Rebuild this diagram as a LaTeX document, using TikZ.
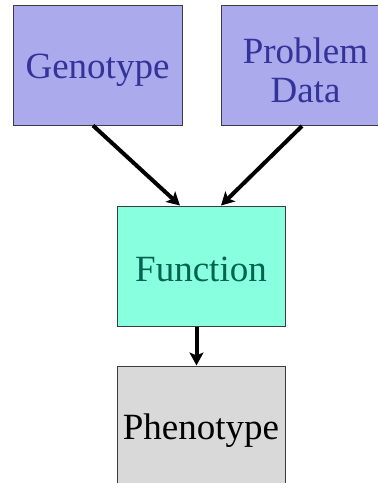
\documentclass[tikz,border=0pt]{standalone}
\usepackage{fontspec}
\setmainfont{Liberation Serif}
\usetikzlibrary{arrows.meta}
\definecolor{inbox}{RGB}{170,170,236}
\definecolor{intext}{RGB}{51,51,153}
\definecolor{funbox}{RGB}{136,255,222}
\definecolor{funtext}{RGB}{0,100,80}
\definecolor{phenobox}{RGB}{217,217,217}
\definecolor{edge}{RGB}{60,60,60}
% line struts: one-line labels sit 15pt below the box centre
\newcommand\onestrut{\rule[-4pt]{0pt}{38pt}}
\newcommand\twostrut{\rule{0pt}{35pt}}
\tikzset{
  block/.style={draw=edge, line width=1pt, minimum width=169pt, minimum height=120pt,
    inner sep=0pt, align=center, font=\fontsize{37}{39}\selectfont},
  inblock/.style={block, fill=inbox, text=intext},
  arr/.style={line width=4pt, -{Stealth[length=13pt, width=14pt, inset=3pt]}}
}
\begin{document}
\begin{tikzpicture}[x=1pt, y=1pt]
  \useasboundingbox (0,0) rectangle (378,-483);
  \begin{scope}
    \clip (0,0) rectangle (378,-483);
    \node[inblock] (geno) at (97.5,-65) {\onestrut Genotype};
    \node[inblock] (data) at (305.5,-65.5) {\twostrut Problem\\\twostrut Data};
    \node[block, fill=funbox, text=funtext, minimum width=168pt] (func) at (201,-266) {\onestrut Function};
    \node[block, fill=phenobox, text=black, minimum width=168pt] (pheno) at (201,-426) {\onestrut Phenotype};
  \end{scope}
  \draw[arr] ([xshift=-4.5pt]geno.south) -- ([xshift=-21pt]func.north);
  \draw[arr] ([xshift=-3.5pt]data.south) -- ([xshift=20pt]func.north);
  \draw[arr] ([xshift=-4.5pt]func.south) -- ([xshift=-4.5pt]pheno.north);
\end{tikzpicture}
\end{document}
